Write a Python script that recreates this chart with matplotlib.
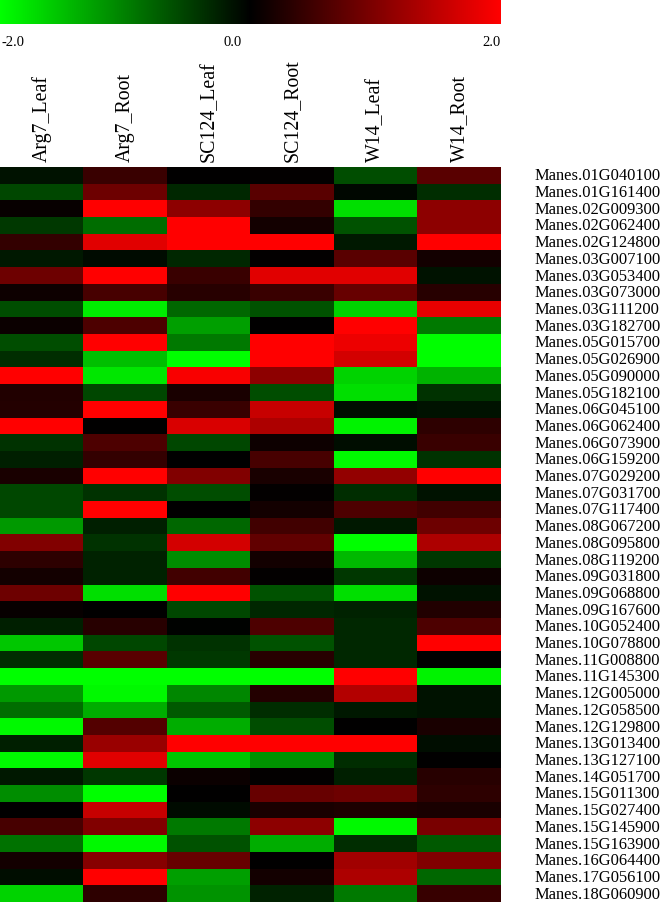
import numpy as np
import matplotlib
matplotlib.use("Agg")
import matplotlib.pyplot as plt
from matplotlib.colors import LinearSegmentedColormap
import matplotlib.transforms as mtransforms

plt.rcParams['font.family'] = ['Liberation Serif', 'DejaVu Serif']

genes = [
    "Manes.01G040100", "Manes.01G161400", "Manes.02G009300", "Manes.02G062400",
    "Manes.02G124800", "Manes.03G007100", "Manes.03G053400", "Manes.03G073000",
    "Manes.03G111200", "Manes.03G182700", "Manes.05G015700", "Manes.05G026900",
    "Manes.05G090000", "Manes.05G182100", "Manes.06G045100", "Manes.06G062400",
    "Manes.06G073900", "Manes.06G159200", "Manes.07G029200", "Manes.07G031700",
    "Manes.07G117400", "Manes.08G067200", "Manes.08G095800", "Manes.08G119200",
    "Manes.09G031800", "Manes.09G068800", "Manes.09G167600", "Manes.10G052400",
    "Manes.10G078800", "Manes.11G008800", "Manes.11G145300", "Manes.12G005000",
    "Manes.12G058500", "Manes.12G129800", "Manes.13G013400", "Manes.13G127100",
    "Manes.14G051700", "Manes.15G011300", "Manes.15G027400", "Manes.15G145900",
    "Manes.15G163900", "Manes.16G064400", "Manes.17G056100", "Manes.18G060900",
]
samples = ["Arg7_Leaf", "Arg7_Root", "SC124_Leaf", "SC124_Root", "W14_Leaf", "W14_Root"]

arg7_leaf = [-0.15, -0.55, 0.05, -0.45, 0.4, -0.2, 0.85, 0.1, -0.6, 0.08, -0.6, -0.35,
             2.0, 0.25, 0.28, 2.0, -0.4, -0.25, 0.2, -0.55, -0.55, -1.2, 1.0, 0.35,
             0.15, 0.85, 0.05, -0.25, -1.55, -0.35, -2.0, -1.2, -0.85, -1.95, -0.25, -1.95,
             -0.2, -1.1, 0.0, 0.55, -0.9, 0.15, -0.1, -1.65]
arg7_root = [0.45, 0.85, 2.0, -0.85, 1.75, -0.08, 2.0, 0.55, -1.85, 0.6, 2.0, -1.5,
             -1.8, -0.55, 2.0, 0.0, 0.6, 0.4, 2.0, -0.4, 2.0, -0.25, -0.4, -0.27,
             -0.27, -1.75, 0.0, 0.3, -0.55, 0.7, -2.0, -1.95, -1.35, 0.65, 1.2, 1.75,
             -0.43, -2.0, 1.55, 1.0, -1.95, 1.05, 2.0, 0.35]
sc124_leaf = [0.0, -0.3, 1.1, 2.0, 2.0, -0.3, 0.45, 0.3, -0.8, -1.25, -0.95, -2.0,
              1.95, 0.2, 0.45, 1.7, -0.55, 0.0, 1.0, -0.6, 0.0, -0.8, 1.65, -1.1,
              0.5, 2.0, -0.55, -0.03, -0.4, -0.45, -2.0, -1.05, -0.7, -1.35, 2.0, -1.55,
              0.08, 0.0, -0.08, -0.95, -0.65, 0.8, -1.25, -1.15]
sc124_root = [0.02, 0.7, 0.4, 0.15, 2.0, 0.03, 1.75, 0.45, -0.65, 0.0, 2.0, 2.0,
              1.1, -0.6, 1.55, 1.35, 0.1, 0.55, 0.2, 0.03, 0.15, 0.5, 0.75, 0.15,
              0.03, -0.65, -0.3, 0.6, -0.65, 0.3, -2.0, 0.27, -0.35, -0.6, 2.0, -1.15,
              0.03, 0.8, 0.2, 1.1, -1.35, 0.0, 0.15, -0.27]
w14_leaf = [-0.6, -0.05, -1.75, -0.65, -0.2, 0.7, 1.75, 0.8, -1.65, 2.0, 1.85, 1.65,
            -1.65, -1.75, -0.1, -1.9, -0.1, -1.95, 1.15, -0.35, 0.6, -0.2, -2.0, -1.45,
            -0.43, -1.75, -0.27, -0.3, -0.3, -0.3, 2.0, 1.4, -0.2, 0.0, 2.0, -0.35,
            -0.25, 0.85, 0.23, -1.95, -0.35, 1.25, 1.35, -0.95]
w14_root = [0.7, -0.35, 1.1, 1.1, 2.0, 0.15, -0.15, 0.3, 1.8, -0.95, -2.0, -2.0,
            -1.4, -0.4, -0.15, 0.35, 0.45, -0.4, 2.0, -0.15, 0.5, 0.85, 1.35, -0.43,
            0.1, -0.15, 0.25, 0.6, 2.0, 0.0, -1.9, -0.15, -0.15, 0.2, -0.1, 0.0,
            0.3, 0.35, 0.2, 0.95, -0.7, 1.0, -0.8, 0.43]

data = np.column_stack([arg7_leaf, arg7_root, sc124_leaf, sc124_root, w14_leaf, w14_root])

W, H = 662, 904
fig = plt.figure(figsize=(W / 100, H / 100), dpi=100)
cmap = LinearSegmentedColormap.from_list("gkr", ["#00ff00", "#000000", "#ff0000"])

# heatmap
ax = fig.add_axes([0, 1 - 903 / H, 501 / W, (903 - 168) / H])
ax.imshow(data, aspect="auto", cmap=cmap, vmin=-2, vmax=2, interpolation="nearest")
ax.set_xticks([]); ax.set_yticks([])
for s in ax.spines.values():
    s.set_visible(False)

for j, name in enumerate(samples):
    ax.annotate(name, xy=(j, -0.5), xytext=(0, 4), textcoords="offset points",
                rotation=90, ha="center", va="bottom", fontsize=14.3, annotation_clip=False)

trans = mtransforms.blended_transform_factory(ax.transAxes, ax.transData)
for i, g in enumerate(genes):
    ax.text(535 / 501, i, g, transform=trans, ha="left", va="center", fontsize=11.9)

# colour key
cax = fig.add_axes([0, 1 - 25 / H, 501 / W, 25 / H])
grad = np.linspace(-2, 2, 512).reshape(1, -1)
cax.imshow(grad, aspect="auto", cmap=cmap, vmin=-2, vmax=2)
cax.set_xticks([]); cax.set_yticks([])
for s in cax.spines.values():
    s.set_visible(False)

fig.text(1 / W, 1 - 43 / H, "-2.0", ha="left", va="center", fontsize=10.5)
fig.text(233 / W, 1 - 43 / H, "0.0", ha="center", va="center", fontsize=10.5)
fig.text(501 / W, 1 - 43 / H, "2.0", ha="right", va="center", fontsize=10.5)

fig.savefig("out.png", dpi=100)
